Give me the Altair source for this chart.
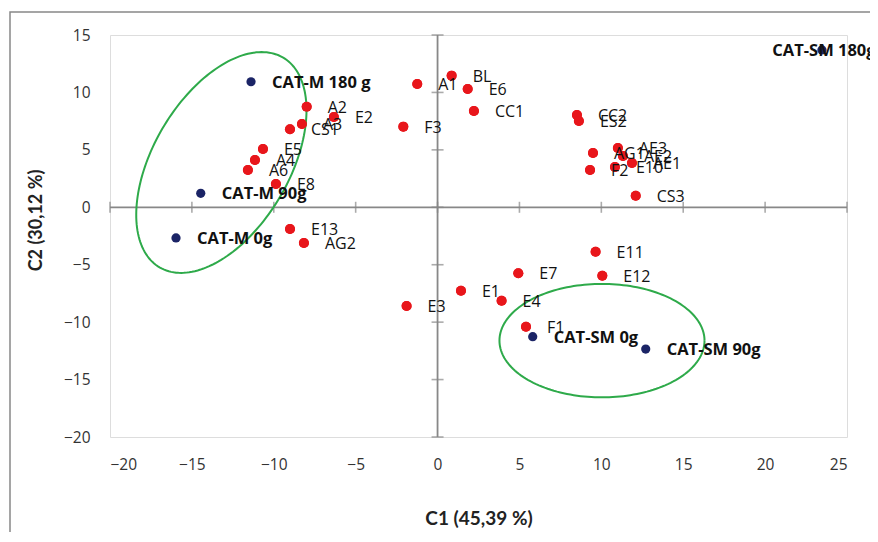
import altair as alt
import numpy as np
import pandas as pd

# ---- data ----
red_names = ["A1", "BL", "E6", "CC1", "F3", "A2", "E2", "A3", "CS1", "E5", "A4", "A6", "E8",
             "E13", "AG2", "CC2", "ES2", "AE3", "AG1", "AE2", "AE1", "E10", "F2", "CS3",
             "E11", "E7", "E12", "E1", "E4", "E3", "F1"]
red_x = [-1.24, 0.86, 1.84, 2.22, -2.09, -7.99, -6.33, -8.28, -9.01, -10.66, -11.15, -11.58, -9.87,
         -9.01, -8.16, 8.51, 8.63, 11.01, 9.49, 11.32, 11.87, 10.83, 9.31, 12.10,
         9.65, 4.93, 10.06, 1.43, 3.91, -1.89, 5.40]
red_y = [10.73, 11.46, 10.30, 8.39, 7.02, 8.76, 7.86, 7.25, 6.79, 5.08, 4.12, 3.25, 2.03,
         -1.89, -3.11, 8.04, 7.51, 5.16, 4.73, 4.47, 3.86, 3.51, 3.25, 1.01,
         -3.87, -5.75, -5.96, -7.26, -8.13, -8.59, -10.40]

blue_names = ["CAT-M 180 g", "CAT-M 90g", "CAT-M 0g", "CAT-SM 0g", "CAT-SM 90g", "CAT-SM 180g"]
blue_x = [-11.39, -14.46, -15.97, 5.81, 12.71, 23.47]
blue_y = [10.93, 1.22, -2.67, -11.27, -12.34, 13.70]

x_ticks = [-20, -15, -10, -5, 0, 5, 10, 15, 20, 25]
y_ticks = [-20, -15, -10, -5, 0, 5, 10, 15]

# ellipses (center, axis vectors in data units)
ell_left = dict(cx=-13.2, cy=3.9, ux=3.75, uy=9.15, vx=-3.6, vy=2.95)
ell_right = dict(cx=10.04, cy=-11.61, ux=6.26, uy=0.0, vx=0.0, vy=4.94)

# ---- build tables ----
red = pd.DataFrame({"name": red_names, "x": red_x, "y": red_y})
blue = pd.DataFrame({"name": blue_names, "x": blue_x, "y": blue_y})

t = np.linspace(0, 2 * np.pi, 181)
ell_rows = []
for gid, e in (("L", ell_left), ("R", ell_right)):
    for i, tt in enumerate(t):
        ell_rows.append({"g": gid, "i": i,
                         "x": e["cx"] + np.cos(tt) * e["ux"] + np.sin(tt) * e["vx"],
                         "y": e["cy"] + np.cos(tt) * e["uy"] + np.sin(tt) * e["vy"]})
ell = pd.DataFrame(ell_rows)

xt = pd.DataFrame({"x": x_ticks, "y": [0] * len(x_ticks)})
yt = pd.DataFrame({"x": [0] * len(y_ticks), "y": y_ticks})

GREY = "#888888"
FONT = "Open Sans"

xs = alt.Scale(domain=[-20, 25], nice=False, zero=False)
ys = alt.Scale(domain=[-20, 15], nice=False, zero=False)

X = alt.X("x:Q", scale=xs, axis=alt.Axis(
    title="C1 (45,39 %)", values=x_ticks, domain=False, ticks=False, grid=False,
    labelPadding=20, labelFontSize=15.5, labelFont=FONT, labelColor="#333333",
    titleFont="Lato", titleFontSize=19, titleFontWeight="bold", titleColor="#222222",
    titleY=81, titleBaseline="middle"))
Y = alt.Y("y:Q", scale=ys, axis=alt.Axis(
    title="C2 (30,12 %)", values=y_ticks, domain=False, ticks=False, grid=False,
    labelPadding=20, labelFontSize=15.5, labelFont=FONT, labelColor="#333333",
    titleFont="Lato", titleFontSize=18, titleFontWeight="bold", titleColor="#222222",
    titleX=-74, titleY=185, titleBaseline="middle", titleAngle=270))

base_dummy = alt.Chart(pd.DataFrame({"a": [0]}))

outer = base_dummy.mark_rect(fill=None, stroke=GREY, strokeWidth=1.5).encode(
    x=alt.value(-100), x2=alt.value(1200), y=alt.value(-23), y2=alt.value(1200))

vline = alt.Chart(pd.DataFrame({"x": [0]})).mark_rule(color=GREY, strokeWidth=1.8).encode(
    x=alt.X("x:Q", scale=xs))
hline = alt.Chart(pd.DataFrame({"y": [0]})).mark_rule(color=GREY, strokeWidth=1.8).encode(
    y=alt.Y("y:Q", scale=ys))

xtk = alt.Chart(xt).mark_tick(orient="vertical", size=11, thickness=1.6, color=GREY).encode(
    x=alt.X("x:Q", scale=xs), y=alt.Y("y:Q", scale=ys))
ytk = alt.Chart(yt).mark_tick(orient="horizontal", size=12, thickness=1.6, color=GREY).encode(
    x=alt.X("x:Q", scale=xs), y=alt.Y("y:Q", scale=ys))

ellipses = alt.Chart(ell).mark_line(color="#2EAA4A", strokeWidth=2).encode(
    x=alt.X("x:Q", scale=xs), y=alt.Y("y:Q", scale=ys), detail="g:N", order="i:Q")

red_pts = alt.Chart(red).mark_circle(size=100, opacity=1, color="#E8161B").encode(x=X, y=Y)
blue_pts = alt.Chart(blue).mark_circle(size=85, opacity=1, color="#1B2466").encode(
    x=alt.X("x:Q", scale=xs), y=alt.Y("y:Q", scale=ys))

red_lbl = alt.Chart(red).mark_text(align="left", baseline="middle", dx=21, dy=1,
                                   font=FONT, fontSize=16, color="#111111").encode(
    x=alt.X("x:Q", scale=xs), y=alt.Y("y:Q", scale=ys), text="name:N")
blue_lbl = alt.Chart(blue).transform_filter(alt.datum.name != "CAT-SM 180g").mark_text(
    align="left", baseline="middle", dx=21, dy=1, font=FONT, fontSize=16.5,
    fontWeight="bold", color="#111111").encode(
    x=alt.X("x:Q", scale=xs), y=alt.Y("y:Q", scale=ys), text="name:N")
blue_lbl2 = alt.Chart(blue).transform_filter(alt.datum.name == "CAT-SM 180g").mark_text(
    align="center", baseline="middle", dx=2, dy=1, font=FONT, fontSize=16.5,
    fontWeight="bold", color="#111111").encode(
    x=alt.X("x:Q", scale=xs), y=alt.Y("y:Q", scale=ys), text="name:N")

chart = alt.layer(
    red_pts, outer, vline, hline, xtk, ytk, ellipses, blue_pts, red_pts,
    red_lbl, blue_lbl, blue_lbl2
).properties(
    width=737, height=402,
    padding={"left": 102, "top": 27, "right": 23, "bottom": 95},
    autosize=alt.AutoSizeParams(type="none"),
).configure_view(stroke=GREY, strokeWidth=1.5).configure(background="white")

chart.save("out.html", embed_options={"renderer": "svg", "actions": False})
